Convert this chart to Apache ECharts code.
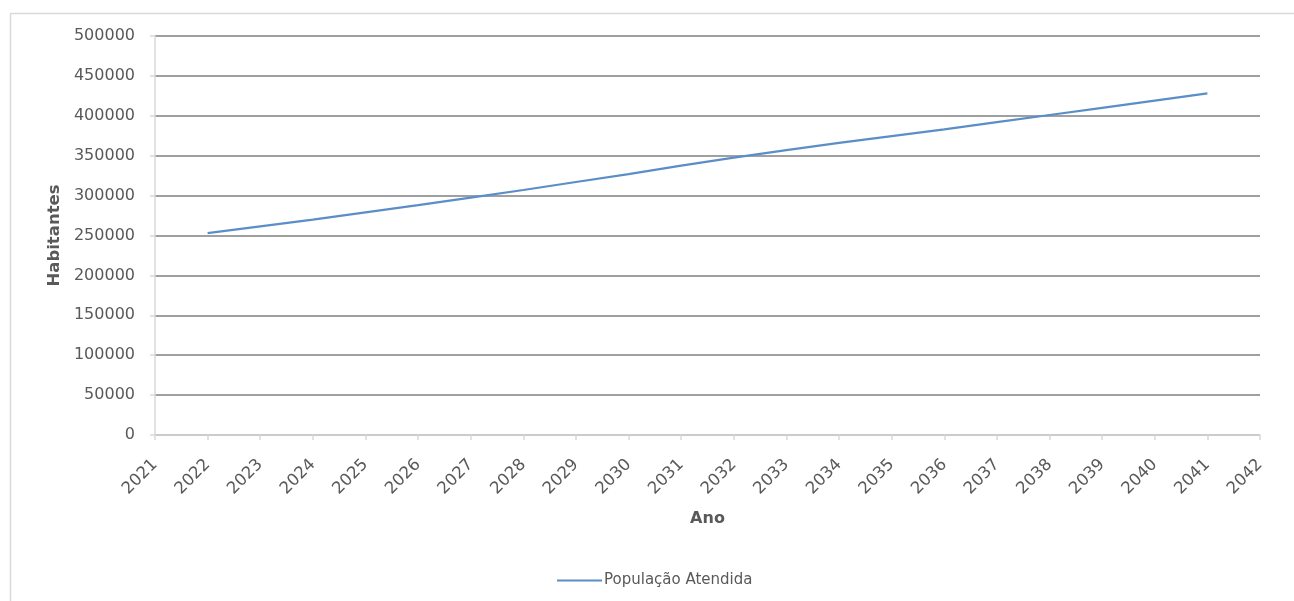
<!DOCTYPE html>
<html>
<head>
<meta charset="utf-8">
<script src="https://cdn.jsdelivr.net/npm/echarts@6/dist/echarts.min.js"></script>
<style>
html,body{margin:0;padding:0;background:#fff;}
#chart{width:1294px;height:601px;}
</style>
</head>
<body>
<div id="chart"></div>
<script>
const years = [2022,2023,2024,2025,2026,2027,2028,2029,2030,2031,2032,2033,2034,2035,2036,2037,2038,2039,2040,2041];
const populacao = [253000,261500,270000,279000,288000,297500,307000,317000,327000,337500,347500,357000,366000,374500,383000,392000,401000,410000,419000,428000];
const seriesName = 'População Atendida';
const xAxisName = 'Ano';
const yAxisName = 'Habitantes';

const chart = echarts.init(document.getElementById('chart'), null, {renderer:'canvas'});
const font = 'DejaVu Sans';
chart.setOption({
  animation:false,
  backgroundColor:'#ffffff',
  graphic:[{
    type:'rect', left:8, top:11, silent:true,
    shape:{x:0,y:0,width:1300,height:600},
    style:{fill:'none', stroke:'#d9d9d9', lineWidth:1.5}
  }],
  grid:{left:155, right:34, top:36, bottom:166},
  legend:{
    left:552, top:568,
    itemWidth:45, itemHeight:10, itemGap:10,
    icon:'path://M0,4L45,4L45,6L0,6Z',
    textStyle:{fontFamily:font, fontSize:15, color:'#595959', padding:[0,0,0,-3]},
    data:[seriesName]
  },
  xAxis:{
    type:'value', min:2021, max:2042, interval:1,
    name:xAxisName, nameLocation:'middle', nameGap:76,
    nameTextStyle:{fontFamily:font, fontSize:16, fontWeight:'bold', color:'#595959'},
    axisLine:{show:true, lineStyle:{color:'#d9d9d9', width:1.5}},
    axisTick:{show:true, length:5, lineStyle:{color:'#d9d9d9', width:1.5}},
    axisLabel:{rotate:45, margin:27, fontFamily:font, fontSize:16.5, color:'#595959',
      formatter: v => String(v)},
    splitLine:{show:false}
  },
  yAxis:{
    type:'value', min:0, max:500000, interval:50000,
    name:yAxisName, nameLocation:'middle', nameGap:90, nameRotate:90,
    nameTextStyle:{fontFamily:font, fontSize:16.5, fontWeight:'bold', color:'#595959'},
    axisLine:{show:true, lineStyle:{color:'#d9d9d9', width:1.5}},
    axisTick:{show:true, length:5, lineStyle:{color:'#d9d9d9', width:1.5}},
    axisLabel:{margin:20, fontFamily:font, fontSize:16, color:'#595959',
      formatter: v => String(v)},
    splitLine:{show:true, lineStyle:{color:'#808080', width:1.5}}
  },
  series:[{
    name:seriesName, type:'line',
    data: years.map((y,i)=>[y, populacao[i]]),
    symbol:'none', smooth:false,
    lineStyle:{color:'#5b8ec6', width:2.2},
    itemStyle:{color:'#5b8ec6'}
  }]
});
</script>
</body>
</html>
